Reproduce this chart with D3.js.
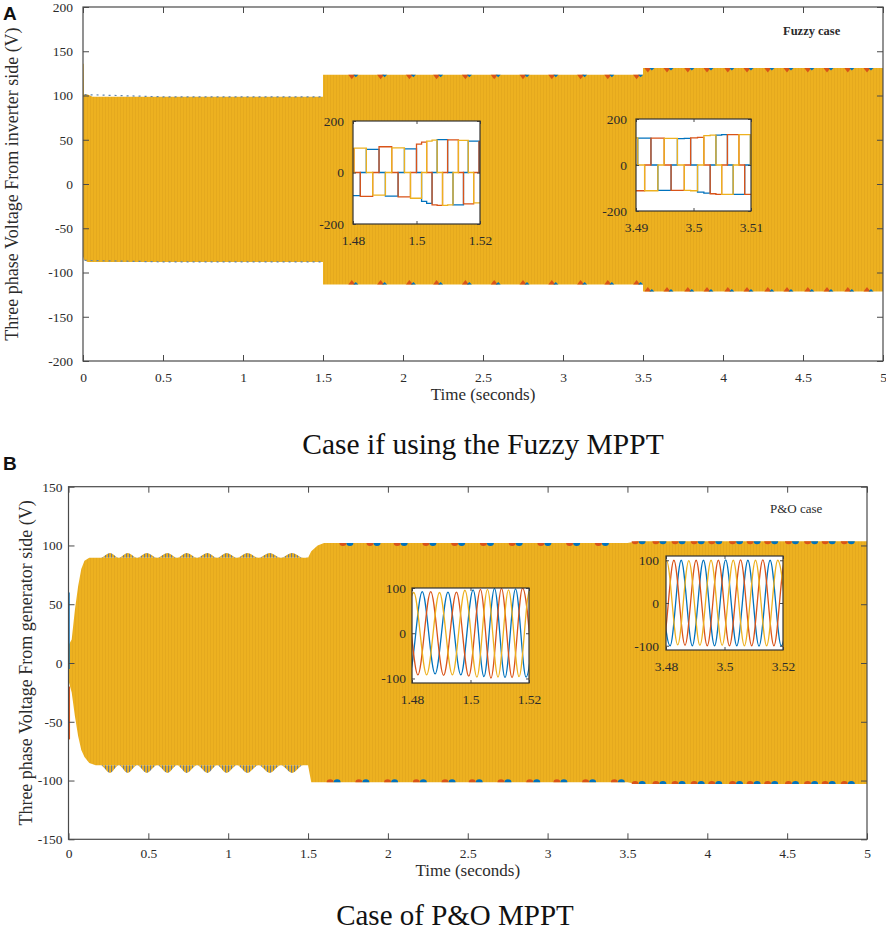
<!DOCTYPE html>
<html><head><meta charset="utf-8">
<script src="https://cdn.jsdelivr.net/npm/d3@7"></script>
<style>
body{margin:0;background:#fff;}
svg{display:block;}
</style></head><body>
<svg id="c" width="886" height="934"></svg>
<script>
// ================= DATA =================
const xTicks  = [0, 0.5, 1, 1.5, 2, 2.5, 3, 3.5, 4, 4.5, 5];
const yTicksA = [-200, -150, -100, -50, 0, 50, 100, 150, 200];
const yTicksB = [-150, -100, -50, 0, 50, 100, 150];

// Panel A (Fuzzy) – envelope of the three-phase band
const envA_t     = [0, 0.004, 0.006, 0.03, 0.06, 1.5, 1.5, 3.5, 3.5, 5];
const envA_upper = [136, 136, 101, 101, 98.5, 98.5, 123.5, 123.5, 131, 131];
const envA_lower = [-82, -84, -86, -88, -88, -88, -113.5, -113.5, -121.5, -121.5];
// red / blue peaks showing at the band edge
const markA_mid  = [1.68, 1.86, 2.04, 2.21, 2.39, 2.57, 2.75, 2.93, 3.11, 3.28, 3.46];
const markA_late = [3.53, 3.65, 3.78, 3.90, 4.03, 4.15, 4.28, 4.40, 4.53, 4.65, 4.78, 4.90];
// dotted ripple segment of the early band edge
const rippleA_t  = [0.01, 0.5, 1.0, 1.49];

// Panel B (P&O) – envelope of the band
const envB_t     = [0, 0.02, 0.04, 0.06, 0.08, 0.10, 0.13, 0.17, 1.5, 1.52, 1.56, 1.6, 3.5, 3.56, 5];
const envB_upper = [15, 20, 45, 65, 80, 87, 89.5, 89.5, 89.5, 95, 100, 102, 102, 103.5, 103.5];
const envB_lower = [-15, -25, -45, -62, -74, -80, -85, -87, -87, -101.5, -101.5, -101.5, -101.5, -103, -103];
// scalloped ripple on the band edge before 1.5 s
const scalB_t     = [0.17, 0.2, 0.26, 0.315, 0.37, 0.43, 0.49, 0.555, 0.62, 0.68, 0.74, 0.805, 0.87, 0.93, 0.99, 1.055, 1.12, 1.19, 1.26, 1.33, 1.40, 1.47, 1.5];
const scalB_upper = [89.5, 89.5, 93.5, 89.5, 93.5, 89.5, 93.5, 89.5, 93.5, 89.5, 93.5, 89.5, 93.5, 89.5, 93.5, 89.5, 93.5, 89.5, 93.5, 89.5, 93.5, 89.5, 90];
const scalB_lower = [-87, -87, -93.5, -87, -93.5, -87, -93.5, -87, -93.5, -87, -93.5, -87, -93.5, -87, -93.5, -87, -93.5, -87, -93.5, -87, -93.5, -87, -87];
const markB_top_mid = [1.74, 1.91, 2.08, 2.26, 2.44, 2.62, 2.80, 2.98, 3.16, 3.34];
const markB_bot_mid = [1.66, 1.84, 2.02, 2.20, 2.38, 2.55, 2.73, 2.91, 3.08, 3.26, 3.44];
const markB_late    = [3.57, 3.70, 3.82, 3.94, 4.05, 4.18, 4.29, 4.40, 4.53, 4.65, 4.76, 4.88];
// start-up transient spikes of panel B  [t, from, to]
const startBlueB = [0.003, -5, 60];
const startRedB  = [0.005, -65, -20];

// Inset A1 (1.48–1.52 s): switching instants and phase levels
const insA1_t = [1.4784, 1.4803, 1.4823, 1.4842, 1.4862, 1.4882, 1.4902, 1.4922, 1.4942, 1.4962, 1.4981, 1.5000, 1.5016, 1.5032, 1.5049, 1.5065, 1.5082, 1.5098, 1.5115, 1.5132, 1.5148, 1.5163, 1.5180, 1.5197, 1.5213, 1.5230];
const insA1_red    = [93, 0, -93, -93, 0, 100, 100, 0, -95, -95, 0, 110, 118, 0, -126, -128, 0, 127, 127, 0, -122, -122, 0, 120, 120];
const insA1_yellow = [0, 95, 95, 0, -88, -88, 0, 96, 96, 0, -100, -100, 0, 122, 126, 0, -128, -126, 0, 125, 125, 0, -118, -118, 0];
const insA1_blue   = [-90, -90, 0, 90, 90, 0, -92, -92, 0, 92, 92, 0, -112, -120, 0, 128, 128, 0, -126, -126, 0, 122, 122, 0, -115];

// Inset A2 (3.49–3.51 s)
const insA2_t = [3.4892, 3.4903, 3.4915, 3.4926, 3.4938, 3.4949, 3.4961, 3.4972, 3.4984, 3.4995, 3.5007, 3.5018, 3.5029, 3.5039, 3.5049, 3.5059, 3.5069, 3.5079, 3.5089, 3.5099, 3.5110, 3.5120];
const insA2_red    = [-112, -112, 0, 117, 117, 0, -110, -110, 0, 118, 120, 0, -125, -128, 0, 132, 132, 0, -128, -128, 0];
const insA2_yellow = [118, 0, -112, -112, 0, 116, 116, 0, -110, -112, 0, 128, 130, 0, -128, -128, 0, 132, 132, 0, -128];
const insA2_blue   = [0, 117, 117, 0, -110, -110, 0, 115, 116, 0, -118, -122, 0, 130, 132, 0, -128, -128, 0, 130, 130];

// Inset B1 (1.48–1.52 s): extrema [t, v] of each phase
const insB1_blue   = [[1.4747,92],[1.4791,-90],[1.4835,92],[1.4879,-90],[1.4923,91],[1.4967,-92],[1.5009,96],[1.5046,-96],[1.5082,99],[1.5118,-98],[1.5154,98],[1.5190,-97],[1.5226,97]];
const insB1_red    = [[1.4732,-90],[1.4776,90],[1.4820,-92],[1.4864,92],[1.4908,-93],[1.4952,91],[1.4994,-95],[1.5034,97],[1.5070,-99],[1.5106,99],[1.5142,-98],[1.5178,100],[1.5214,-98]];
const insB1_yellow = [[1.4762,-90],[1.4806,90],[1.4850,-92],[1.4894,90],[1.4938,-92],[1.4981,95],[1.5022,-97],[1.5058,97],[1.5094,-97],[1.5130,96],[1.5166,-96],[1.5202,94],[1.5238,-94]];

// Inset B2 (3.48–3.52 s)
const insB2_blue   = [[3.4776,99],[3.4814,-100],[3.4852,100],[3.4890,-100],[3.4928,100],[3.4966,-100],[3.5004,101],[3.5042,-100],[3.5080,100],[3.5118,-101],[3.5156,100],[3.5194,-100],[3.5232,100]];
const insB2_red    = [[3.4751,99],[3.4789,-99],[3.4827,100],[3.4865,-99],[3.4903,100],[3.4941,-100],[3.4979,100],[3.5017,-100],[3.5055,101],[3.5093,-100],[3.5131,101],[3.5169,-100],[3.5207,100],[3.5245,-100]];
const insB2_yellow = [[3.4764,-98],[3.4802,99],[3.4840,-98],[3.4878,99],[3.4916,-99],[3.4954,100],[3.4992,-99],[3.5030,100],[3.5068,-100],[3.5106,100],[3.5144,-100],[3.5182,100],[3.5220,-100]];

// ================= STYLE / LAYOUT =================
const BLUE = '#0072BD', RED = '#D95319', YEL = '#EDB120';
const SERIF = '"Liberation Serif", "Times New Roman", serif';
const SANS = '"Liberation Sans", Arial, sans-serif';
const AX = '#4a4a4a', TXT = '#2b2b2b';

const svg = d3.select('#c');
const defs = svg.append('defs');
const pat = defs.append('pattern').attr('id', 'band').attr('width', 3).attr('height', 10).attr('patternUnits', 'userSpaceOnUse');
pat.append('rect').attr('width', 3).attr('height', 10).attr('fill', YEL);
pat.append('rect').attr('width', 0.7).attr('height', 10).attr('fill', '#E2A61C');
const hat = defs.append('pattern').attr('id', 'hatch').attr('width', 3).attr('height', 10).attr('patternUnits', 'userSpaceOnUse');
hat.append('rect').attr('width', 3).attr('height', 10).attr('fill', YEL);
hat.append('rect').attr('width', 1.1).attr('height', 10).attr('fill', '#6d7b88');

const fmt = d => String(d);

function envAt(ts, vs, t) {
  for (let i = ts.length - 1; i > 0; i--) {
    if (t >= ts[i - 1] && t <= ts[i]) {
      const a = ts[i - 1], b = ts[i];
      return b === a ? vs[i] : vs[i - 1] + (vs[i] - vs[i - 1]) * (t - a) / (b - a);
    }
  }
  return vs[vs.length - 1];
}

function styleAxis(sel, size) {
  sel.select('.domain').remove();
  sel.selectAll('line').attr('stroke', AX).attr('stroke-width', 1);
  sel.selectAll('text').attr('font-family', SERIF).attr('font-size', size).attr('fill', TXT);
}

function panel(cfg) {
  const x = d3.scaleLinear().domain([0, 5]).range([cfg.x0, cfg.x1]);
  const y = d3.scaleLinear().domain(cfg.yd).range([cfg.yb, cfg.yt]);
  const g = svg.append('g');
  return { x, y, g };
}

function frame(p, cfg) {
  const { x, y, g } = p;
  const a = g.append('g');
  a.append('g').attr('transform', `translate(0,${cfg.yb})`)
    .call(d3.axisBottom(x).tickValues(xTicks).tickSizeInner(-6).tickSizeOuter(0).tickPadding(cfg.xpad).tickFormat(fmt))
    .call(s => styleAxis(s, 13.5));
  a.append('g').attr('transform', `translate(0,${cfg.yt})`)
    .call(d3.axisTop(x).tickValues(xTicks).tickSizeInner(-6).tickSizeOuter(0).tickFormat(''))
    .call(s => styleAxis(s, 13.5));
  a.append('g').attr('transform', `translate(${cfg.x0},0)`)
    .call(d3.axisLeft(y).tickValues(cfg.yticks).tickSizeInner(-6).tickSizeOuter(0).tickPadding(cfg.ypad).tickFormat(fmt))
    .call(s => styleAxis(s, 13.5));
  a.append('g').attr('transform', `translate(${cfg.x1},0)`)
    .call(d3.axisRight(y).tickValues(cfg.yticks).tickSizeInner(-6).tickSizeOuter(0).tickFormat(''))
    .call(s => styleAxis(s, 13.5));
  g.append('rect').attr('x', cfg.x0).attr('y', cfg.yt).attr('width', cfg.x1 - cfg.x0).attr('height', cfg.yb - cfg.yt)
    .attr('fill', 'none').attr('stroke', AX).attr('stroke-width', 1.2);
  g.append('text').attr('x', (cfg.x0 + cfg.x1) / 2).attr('y', cfg.xlabY).attr('text-anchor', 'middle')
    .attr('font-family', SERIF).attr('font-size', 17).attr('fill', TXT).text('Time (seconds)');
  g.append('text').attr('transform', `translate(${cfg.ylabX},${(cfg.yt + cfg.yb) / 2}) rotate(-90)`).attr('text-anchor', 'middle')
    .attr('font-family', SERIF).attr('font-size', 18).attr('fill', TXT).text(cfg.ylab);
}

function band(p, ts, up, lo) {
  const rows = ts.map((t, i) => ({ t, hi: up[i], lo: lo[i] }));
  p.g.append('path').datum(rows)
    .attr('d', d3.area().x(d => p.x(d.t)).y0(d => p.y(d.lo)).y1(d => p.y(d.hi)))
    .attr('fill', 'url(#band)');
}

function triMarks(p, times, ts, vs, dir) {
  times.forEach(t => {
    const px = p.x(t), py = p.y(envAt(ts, vs, t));
    p.g.append('path').attr('d', `M${px - 3.5},${py}L${px + 3.5},${py}L${px},${py + dir * 4.5}Z`).attr('fill', RED);
    p.g.append('path').attr('d', `M${px + 1.5},${py}L${px + 6.5},${py}L${px + 4},${py + dir * 2.5}Z`).attr('fill', BLUE);
  });
}

function discMarks(p, times, ts, vs, dir) {
  const sweep = dir > 0 ? 0 : 1;
  times.forEach(t => {
    const px = p.x(t), py = p.y(envAt(ts, vs, t));
    p.g.append('path').attr('d', `M${px - 7},${py}A3.5,3 0 0 ${sweep} ${px},${py}Z`).attr('fill', RED);
    p.g.append('path').attr('d', `M${px},${py}A3.5,3 0 0 ${sweep} ${px + 7},${py}Z`).attr('fill', BLUE);
  });
}

function inset(cfg, series, curve) {
  const x = d3.scaleLinear().domain(cfg.xd).range([cfg.x0, cfg.x1]);
  const y = d3.scaleLinear().domain(cfg.yd).range([cfg.y1, cfg.y0]);
  const g = svg.append('g');
  const id = 'clip' + cfg.id;
  defs.append('clipPath').attr('id', id).append('rect')
    .attr('x', cfg.x0).attr('y', cfg.y0).attr('width', cfg.x1 - cfg.x0).attr('height', cfg.y1 - cfg.y0);
  g.append('rect').attr('x', cfg.x0).attr('y', cfg.y0).attr('width', cfg.x1 - cfg.x0).attr('height', cfg.y1 - cfg.y0).attr('fill', '#fff');
  const lg = g.append('g').attr('clip-path', `url(#${id})`);
  series.forEach(s => lg.append('path').datum(s.pts)
    .attr('d', d3.line().x(d => x(d[0])).y(d => y(d[1])).curve(curve))
    .attr('fill', 'none').attr('stroke', s.color).attr('stroke-width', 1.3));
  g.append('g').attr('transform', `translate(0,${cfg.y1})`)
    .call(d3.axisBottom(x).tickValues(cfg.xt).tickSizeInner(-3).tickSizeOuter(0).tickPadding(11).tickFormat(fmt))
    .call(s => styleAxis(s, 13.5));
  g.append('g').attr('transform', `translate(0,${cfg.y0})`)
    .call(d3.axisTop(x).tickValues(cfg.xt).tickSizeInner(-3).tickSizeOuter(0).tickFormat(''))
    .call(s => styleAxis(s, 13.5));
  g.append('g').attr('transform', `translate(${cfg.x0},0)`)
    .call(d3.axisLeft(y).tickValues(cfg.yt).tickSizeInner(-3).tickSizeOuter(0).tickPadding(cfg.ypad).tickFormat(fmt))
    .call(s => styleAxis(s, 13.5));
  g.append('g').attr('transform', `translate(${cfg.x1},0)`)
    .call(d3.axisRight(y).tickValues(cfg.yt).tickSizeInner(-3).tickSizeOuter(0).tickFormat(''))
    .call(s => styleAxis(s, 13.5));
  g.append('rect').attr('x', cfg.x0).attr('y', cfg.y0).attr('width', cfg.x1 - cfg.x0).attr('height', cfg.y1 - cfg.y0)
    .attr('fill', 'none').attr('stroke', '#333').attr('stroke-width', 1.2);
}

function steps(ts, levels) {
  return ts.map((t, i) => [t, levels[Math.min(i, levels.length - 1)]]);
}

// ================= PANEL A =================
const cfgA = { x0: 83, x1: 883, yt: 7, yb: 361, yd: [-200, 200], yticks: yTicksA, xpad: 11, ypad: 10,
  xlabY: 400, ylabX: 18, ylab: 'Three phase Voltage From inverter side (V)' };
const pA = panel(cfgA);
band(pA, envA_t, envA_upper, envA_lower);
// dotted ripple on early band edges
[envA_upper, envA_lower].forEach(arr => {
  pA.g.append('path').datum(rippleA_t.map(t => [t, envAt(envA_t, arr, t)]))
    .attr('d', d3.line().x(d => pA.x(d[0])).y(d => pA.y(d[1])))
    .attr('fill', 'none').attr('stroke', '#5f84ad').attr('stroke-width', 1.2).attr('stroke-dasharray', '2,4');
});
triMarks(pA, markA_mid, envA_t, envA_upper, 1);
triMarks(pA, markA_mid, envA_t, envA_lower, -1);
triMarks(pA, markA_late, envA_t, envA_upper, 1);
triMarks(pA, markA_late, envA_t, envA_lower, -1);
frame(pA, cfgA);

inset({ id: 'a1', x0: 353, x1: 480, y0: 121, y1: 224, xd: [1.48, 1.52], yd: [-200, 200], xt: [1.48, 1.5, 1.52], yt: [-200, 0, 200], ypad: 9 },
  [{ color: BLUE, pts: steps(insA1_t, insA1_blue) }, { color: RED, pts: steps(insA1_t, insA1_red) }, { color: YEL, pts: steps(insA1_t, insA1_yellow) }],
  d3.curveStepAfter);
inset({ id: 'a2', x0: 636, x1: 751, y0: 119, y1: 211, xd: [3.49, 3.51], yd: [-200, 200], xt: [3.49, 3.5, 3.51], yt: [-200, 0, 200], ypad: 9 },
  [{ color: BLUE, pts: steps(insA2_t, insA2_blue) }, { color: RED, pts: steps(insA2_t, insA2_red) }, { color: YEL, pts: steps(insA2_t, insA2_yellow) }],
  d3.curveStepAfter);

svg.append('text').attr('x', 783).attr('y', 35).attr('font-family', SERIF).attr('font-size', 12.5).attr('font-weight', 'bold').attr('fill', TXT).text('Fuzzy case');
svg.append('text').attr('x', 3).attr('y', 20).attr('font-family', SANS).attr('font-size', 19).attr('font-weight', 'bold').attr('fill', '#111').text('A');
svg.append('text').attr('x', 483).attr('y', 454).attr('text-anchor', 'middle').attr('font-family', SERIF).attr('font-size', 29.5).attr('fill', '#111').text('Case if using the Fuzzy MPPT');

// ================= PANEL B =================
const cfgB = { x0: 68.5, x1: 867, yt: 486.7, yb: 839.3, yd: [-150, 150], yticks: yTicksB, xpad: 9, ypad: 6,
  xlabY: 876, ylabX: 32, ylab: 'Three phase Voltage From generator side (V)' };
const pB = panel(cfgB);
band(pB, envB_t, envB_upper, envB_lower);
[[scalB_upper, envB_upper], [scalB_lower, envB_lower]].forEach(([outer, inner]) => {
  const rows = scalB_t.map((t, i) => ({ t, o: outer[i], n: envAt(envB_t, inner, t) }));
  pB.g.append('path').datum(rows)
    .attr('d', d3.area().curve(d3.curveMonotoneX).x(d => pB.x(d.t)).y0(d => pB.y(d.n)).y1(d => pB.y(d.o)))
    .attr('fill', 'url(#hatch)');
});
pB.g.append('line').attr('x1', pB.x(startBlueB[0])).attr('x2', pB.x(startBlueB[0]))
  .attr('y1', pB.y(startBlueB[1])).attr('y2', pB.y(startBlueB[2])).attr('stroke', BLUE).attr('stroke-width', 1.5);
pB.g.append('line').attr('x1', pB.x(startRedB[0])).attr('x2', pB.x(startRedB[0]))
  .attr('y1', pB.y(startRedB[1])).attr('y2', pB.y(startRedB[2])).attr('stroke', RED).attr('stroke-width', 1.5);
discMarks(pB, markB_top_mid, envB_t, envB_upper, 1);
discMarks(pB, markB_bot_mid, envB_t, envB_lower, -1);
discMarks(pB, markB_late, envB_t, envB_upper, 1);
discMarks(pB, markB_late, envB_t, envB_lower, -1);
frame(pB, cfgB);

inset({ id: 'b1', x0: 412, x1: 529, y0: 588, y1: 683, xd: [1.48, 1.52], yd: [-110, 100], xt: [1.48, 1.5, 1.52], yt: [-100, 0, 100], ypad: 6 },
  [{ color: BLUE, pts: insB1_blue }, { color: RED, pts: insB1_red }, { color: YEL, pts: insB1_yellow }],
  d3.curveMonotoneX);
inset({ id: 'b2', x0: 666, x1: 783, y0: 556, y1: 650, xd: [3.48, 3.52], yd: [-110, 110], xt: [3.48, 3.5, 3.52], yt: [-100, 0, 100], ypad: 7 },
  [{ color: BLUE, pts: insB2_blue }, { color: RED, pts: insB2_red }, { color: YEL, pts: insB2_yellow }],
  d3.curveMonotoneX);

svg.append('text').attr('x', 770).attr('y', 513).attr('font-family', SERIF).attr('font-size', 13).attr('fill', TXT).text('P&O case');
svg.append('text').attr('x', 3).attr('y', 470).attr('font-family', SANS).attr('font-size', 19).attr('font-weight', 'bold').attr('fill', '#111').text('B');
svg.append('text').attr('x', 455).attr('y', 925).attr('text-anchor', 'middle').attr('font-family', SERIF).attr('font-size', 29).attr('fill', '#111').text('Case of P&O MPPT');
</script>
</body></html>
